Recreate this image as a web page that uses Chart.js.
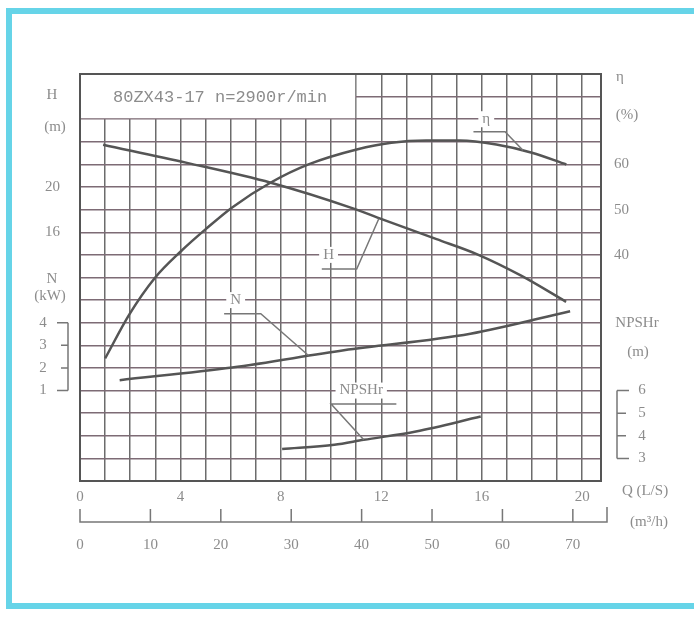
<!DOCTYPE html>
<html>
<head>
<meta charset="utf-8">
<script src="https://cdn.jsdelivr.net/npm/chart.js@4.4.1/dist/chart.umd.min.js"></script>
<style>
  html, body { margin: 0; padding: 0; background: #fff; }
  .wrap { position: relative; width: 694px; height: 622px; overflow: hidden; }
  .frame { position: absolute; left: 6px; top: 8px; width: 700px; height: 589px;
           border: 6px solid #66d4e8; border-right: none; pointer-events: none; }
</style>
</head>
<body>
<div class="wrap">
  <canvas id="pumpChart"></canvas>
  <div class="frame"></div>
</div>
<script>
// flow Q in L/s (grid columns)
const qHead = [0.92, 4.26, 7.6, 10.9, 11.85, 14.2, 15.8, 17.57, 19.36];
const head = [23.75, 22.14, 20.38, 18.09, 17.3, 15.39, 14.07, 12.16, 9.85];

const qEff = [1.0, 1.96, 2.98, 4.0, 5.03, 6.06, 7.6, 9.1, 11.02, 12.4, 13.79, 15.14, 16.58, 18.0, 19.37];
const eff = [17.1, 26.8, 34.9, 40.7, 45.8, 50.5, 56.0, 60.0, 63.3, 64.8, 65.3, 65.3, 64.4, 62.6, 60.0];

const qPower = [1.58, 6.06, 10.51, 15.55, 19.52];
const power = [1.46, 2.02, 2.78, 3.51, 4.51];

const qNpsh = [8.05, 10.13, 11.3, 13.38, 15.96];
const npsh = [3.41, 3.6, 3.82, 4.19, 4.85];

// tick labels
const qLabels = [0, 4, 8, 12, 16, 20];
const flowM3Labels = [0, 10, 20, 30, 40, 50, 60, 70];
const headLabels = [16, 20];
const effLabels = [40, 50, 60];
const powerLabels = [1, 2, 3, 4];
const npshLabels = [3, 4, 5, 6];

const title = '80ZX43-17 n=2900r/min';

const TXT = '#8c8c8c';
const LINE = '#555';
const EDGE = '#555';

// callouts in (Q, H) coordinates
const notes = [
  { text: 'η', at: [16.18, 26], path: [[15.67, 24.9], [16.93, 24.9], [17.64, 23.25]] },
  { text: 'H', at: [9.9, 14], path: [[9.63, 12.75], [11.02, 12.75], [11.9, 17.2]] },
  { text: 'N', at: [6.2, 10], path: [[5.74, 8.8], [7.2, 8.8], [9.1, 5.1]] },
  { text: 'NPSHr', at: [11.2, 2], path: [[12.6, 0.8], [10.0, 0.8], [11.3, -2.35]] }
];

const pts = (xs, ys) => xs.map((v, i) => ({ x: v, y: ys[i] }));
const range = (a, b, step) => { const r = []; for (let v = a; v <= b; v += step) r.push({ value: v }); return r; };

Chart.defaults.font.family = '"Liberation Serif", serif';
Chart.defaults.font.size = 15;
Chart.defaults.color = TXT;

const decor = {
  id: 'decor',
  beforeDatasetsDraw(chart) {
    const { ctx, scales: { x, y } } = chart;
    const l = x.getPixelForValue(0), r = x.getPixelForValue(11);
    const t = y.getPixelForValue(30), b = y.getPixelForValue(26);
    ctx.save();
    ctx.fillStyle = '#fff';
    ctx.fillRect(l + 1, t + 1, r - l - 2, b - t - 2);
    ctx.font = '17px "Liberation Mono", monospace';
    ctx.fillStyle = TXT;
    ctx.textAlign = 'center';
    ctx.textBaseline = 'middle';
    ctx.fillText(title, (l + r) / 2 + 2, y.getPixelForValue(28) + 1);
    ctx.restore();
  },
  afterDatasetsDraw(chart) {
    const { ctx, scales: { x, y } } = chart;
    ctx.save();
    ctx.font = '15px "Liberation Serif", serif';
    ctx.textAlign = 'center';
    ctx.textBaseline = 'middle';
    notes.forEach(n => {
      const cx = x.getPixelForValue(n.at[0]), cy = y.getPixelForValue(n.at[1]);
      const w = ctx.measureText(n.text).width + 8;
      ctx.fillStyle = '#fff';
      ctx.fillRect(cx - w / 2, cy - 8, w, 16);
      ctx.fillStyle = TXT;
      ctx.fillText(n.text, cx, cy);
      ctx.strokeStyle = '#777';
      ctx.lineWidth = 1.5;
      ctx.beginPath();
      n.path.forEach((p, i) => {
        const px = x.getPixelForValue(p[0]), py = y.getPixelForValue(p[1]);
        if (i === 0) ctx.moveTo(px, py); else ctx.lineTo(px, py);
      });
      ctx.stroke();
    });
    ctx.restore();
  },
  afterDraw(chart) {
    const { ctx, chartArea: a, scales: { x2, yN, yP } } = chart;
    ctx.save();
    ctx.font = '15px "Liberation Serif", serif';
    ctx.fillStyle = TXT;
    ctx.textAlign = 'center';
    ctx.textBaseline = 'middle';
    // axis captions
    ctx.fillText('H', a.left - 28, 95);
    ctx.fillText('(m)', a.left - 25, 127);
    ctx.fillText('N', a.left - 28, 279);
    ctx.fillText('(kW)', a.left - 30, 296);
    ctx.fillText('η', a.right + 19, 77);
    ctx.fillText('(%)', a.right + 26, 115);
    ctx.fillText('NPSHr', a.right + 36, 323);
    ctx.fillText('(m)', a.right + 37, 352);
    ctx.fillText('Q (L/S)', a.right + 44, 491);
    ctx.fillText('(m³/h)', a.right + 48, 522);

    ctx.strokeStyle = '#777';
    ctx.lineWidth = 1.5;
    // N bracket (left)
    const bx = a.left - 12;
    ctx.beginPath();
    ctx.moveTo(bx, yN.getPixelForValue(1));
    ctx.lineTo(bx, yN.getPixelForValue(4));
    powerLabels.forEach(v => {
      const py = yN.getPixelForValue(v);
      const end = (v === 1 || v === 4) ? 11 : 7;
      ctx.moveTo(bx - end, py);
      ctx.lineTo(bx, py);
    });
    ctx.stroke();
    powerLabels.forEach(v => ctx.fillText(String(v), a.left - 37, yN.getPixelForValue(v)));

    // NPSHr bracket (right)
    const rx = a.right + 16;
    ctx.beginPath();
    ctx.moveTo(rx, yP.getPixelForValue(3));
    ctx.lineTo(rx, yP.getPixelForValue(6));
    npshLabels.forEach(v => {
      const py = yP.getPixelForValue(v);
      const end = (v === 3 || v === 6) ? 12 : 9;
      ctx.moveTo(rx, py);
      ctx.lineTo(rx + end, py);
    });
    ctx.stroke();
    npshLabels.forEach(v => ctx.fillText(String(v), a.right + 41, yP.getPixelForValue(v)));

    // m3/h scale line with upward ticks
    const ly = x2.top + 15;
    const x0 = x2.getPixelForValue(0);
    ctx.beginPath();
    ctx.moveTo(x0, ly - 13);
    ctx.lineTo(x0, ly);
    ctx.lineTo(a.right + 6, ly);
    ctx.lineTo(a.right + 6, ly - 15);
    flowM3Labels.forEach(v => {
      if (v === 0) return;
      const px = x2.getPixelForValue(v);
      ctx.moveTo(px, ly);
      ctx.lineTo(px, ly - 13);
    });
    ctx.stroke();
    ctx.restore();
  }
};

const line = (label, data, axis) => ({
  label, data, yAxisID: axis,
  borderColor: LINE, borderWidth: 2.5,
  pointRadius: 0, fill: false,
  cubicInterpolationMode: 'monotone'
});

new Chart(document.getElementById('pumpChart'), {
  type: 'line',
  data: {
    datasets: [
      line('H', pts(qHead, head), 'y'),
      line('η', pts(qEff, eff), 'yE'),
      line('N', pts(qPower, power), 'yN'),
      line('NPSHr', pts(qNpsh, npsh), 'yP')
    ]
  },
  plugins: [decor],
  options: {
    responsive: true,
    maintainAspectRatio: false,
    animation: false,
    events: [],
    layout: { padding: { top: 74, left: 0, right: 0, bottom: 0 } },
    plugins: { legend: { display: false }, tooltip: { enabled: false } },
    scales: {
      x: {
        type: 'linear', position: 'bottom', weight: 0,
        min: 0, max: 20.75,
        afterFit: s => { s.height = 26; },
        afterBuildTicks: s => { s.ticks = range(0, 20, 1); },
        ticks: {
          padding: 7, maxRotation: 0, autoSkip: false,
          callback: v => qLabels.includes(v) ? String(v) : ''
        },
        grid: { drawTicks: false, color: '#6c6c6c', lineWidth: 1.5 },
        border: { display: true, color: EDGE, width: 2 }
      },
      x2: {
        type: 'linear', position: 'bottom', weight: 1,
        min: 0, max: 74,
        afterFit: s => { s.height = 115; },
        afterBuildTicks: s => { s.ticks = flowM3Labels.map(v => ({ value: v })); },
        ticks: {
          padding: 21, maxRotation: 0, autoSkip: false,
          callback: v => String(v)
        },
        grid: { display: false },
        border: { display: false }
      },
      y: {
        type: 'linear', position: 'left',
        min: -6, max: 30,
        afterFit: s => { s.width = 80; },
        ticks: {
          stepSize: 2, padding: 20,
          callback: v => headLabels.includes(v) ? String(v) : ''
        },
        grid: {
          drawTicks: false,
          color: c => (c.tick && (c.tick.value === 30 || c.tick.value === -6)) ? EDGE : '#7d6b75',
          lineWidth: c => (c.tick && (c.tick.value === 30 || c.tick.value === -6)) ? 2 : 1.5
        },
        border: { display: true, color: EDGE, width: 2 }
      },
      yE: {
        type: 'linear', position: 'right',
        min: -10, max: 80,
        afterFit: s => { s.width = 93; },
        ticks: {
          stepSize: 5, padding: 13,
          callback: v => effLabels.includes(v) ? String(v) : ''
        },
        grid: { drawOnChartArea: false, drawTicks: false },
        border: { display: true, color: EDGE, width: 2 }
      },
      yN: { type: 'linear', display: false, min: -3, max: 15 },
      yP: { type: 'linear', display: false, min: 2, max: 20 }
    }
  }
});
</script>
</body>
</html>
